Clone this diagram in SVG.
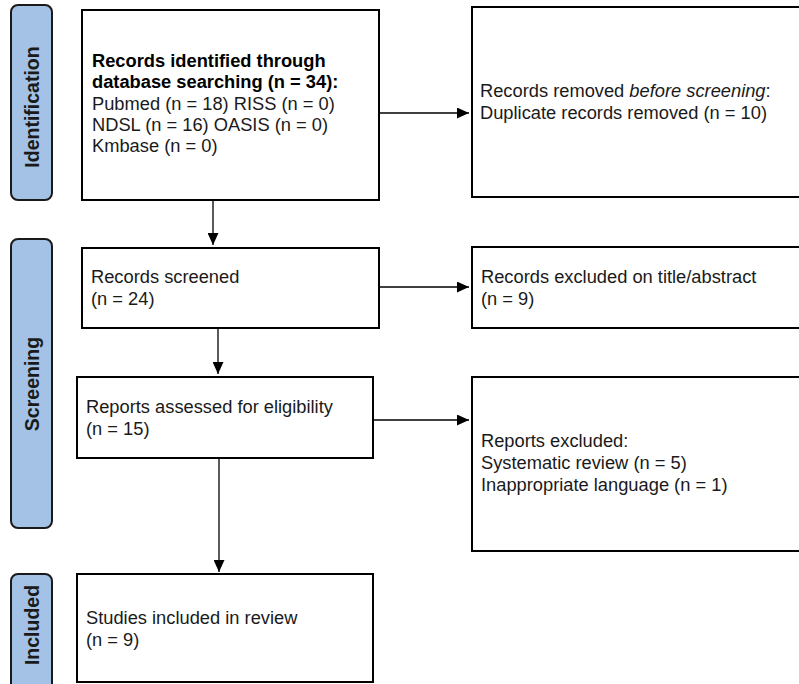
<svg xmlns="http://www.w3.org/2000/svg" width="799" height="684" viewBox="0 0 799 684">
<defs>
<style>
.box{fill:#fff;stroke:#000;stroke-width:2}
.side{fill:#a3c2e6;stroke:#1a1a1a;stroke-width:2}
.t{font-family:"Liberation Sans",Arial,sans-serif;font-size:18.3px;fill:#1a1a1a}
.b{font-weight:bold;fill:#000}
.st{font-family:"Liberation Sans",Arial,sans-serif;font-size:19.5px;font-weight:bold;fill:#1a1a1a}
.c{stroke:#000;stroke-width:1.3;fill:none;marker-end:url(#ah)}
</style>
<marker id="ah" viewBox="0 0 12 11" refX="12" refY="5.5" markerWidth="12" markerHeight="11" markerUnits="userSpaceOnUse" orient="auto">
<path d="M0,0 L12,5.5 L0,11 Z" fill="#000"/>
</marker>
</defs>
<rect width="799" height="684" fill="#fff"/>
<g id="phase-identification">
<rect class="side" x="11" y="5" width="41" height="195" rx="7"/>
<text class="st" transform="translate(39,107) rotate(-90)" text-anchor="middle">Identification</text>
</g>
<g id="phase-screening">
<rect class="side" x="11" y="239" width="41" height="289" rx="7"/>
<text class="st" transform="translate(39,384) rotate(-90)" text-anchor="middle">Screening</text>
</g>
<g id="phase-included">
<rect class="side" x="11" y="574" width="41" height="120" rx="7"/>
<text class="st" transform="translate(39,625) rotate(-90)" text-anchor="middle">Included</text>
</g>
<g id="connectors">
<line class="c" x1="213" y1="200" x2="213" y2="245"/>
<line class="c" x1="218" y1="328" x2="218" y2="374"/>
<line class="c" x1="219" y1="458" x2="219" y2="572"/>
<line class="c" x1="379" y1="113" x2="469" y2="113"/>
<line class="c" x1="379" y1="287" x2="469" y2="287"/>
<line class="c" x1="373" y1="420" x2="469" y2="420"/>
</g>
<g id="identified">
<rect class="box" x="82" y="10" width="297" height="190"/>
<text class="t b" x="92" y="67">Records identified through</text>
<text class="t b" x="92" y="88">database searching (n = 34):</text>
<text class="t" x="92" y="110">Pubmed (n = 18) RISS (n = 0)</text>
<text class="t" x="92" y="131">NDSL (n = 16) OASIS (n = 0)</text>
<text class="t" x="92" y="152">Kmbase (n = 0)</text>
</g>
<g id="removed">
<rect class="box" x="472" y="7" width="340" height="190"/>
<text class="t" x="480" y="97">Records removed <tspan font-style="italic">before screening</tspan>:</text>
<text class="t" x="480" y="119">Duplicate records removed (n = 10)</text>
</g>
<g id="screened">
<rect class="box" x="82" y="248" width="297" height="80"/>
<text class="t" x="91" y="283">Records screened</text>
<text class="t" x="91" y="305">(n = 24)</text>
</g>
<g id="excluded-title">
<rect class="box" x="472" y="247" width="340" height="81"/>
<text class="t" x="481" y="283">Records excluded on title/abstract</text>
<text class="t" x="481" y="305">(n = 9)</text>
</g>
<g id="assessed">
<rect class="box" x="77" y="377" width="296" height="81"/>
<text class="t" x="86" y="413">Reports assessed for eligibility</text>
<text class="t" x="86" y="435">(n = 15)</text>
</g>
<g id="reports-excluded">
<rect class="box" x="472" y="377" width="340" height="174"/>
<text class="t" x="481" y="447">Reports excluded:</text>
<text class="t" x="481" y="469">Systematic review (n = 5)</text>
<text class="t" x="481" y="491">Inappropriate language (n = 1)</text>
</g>
<g id="included">
<rect class="box" x="77" y="574" width="296" height="108"/>
<text class="t" x="86" y="624">Studies included in review</text>
<text class="t" x="86" y="646">(n = 9)</text>
</g>
</svg>
